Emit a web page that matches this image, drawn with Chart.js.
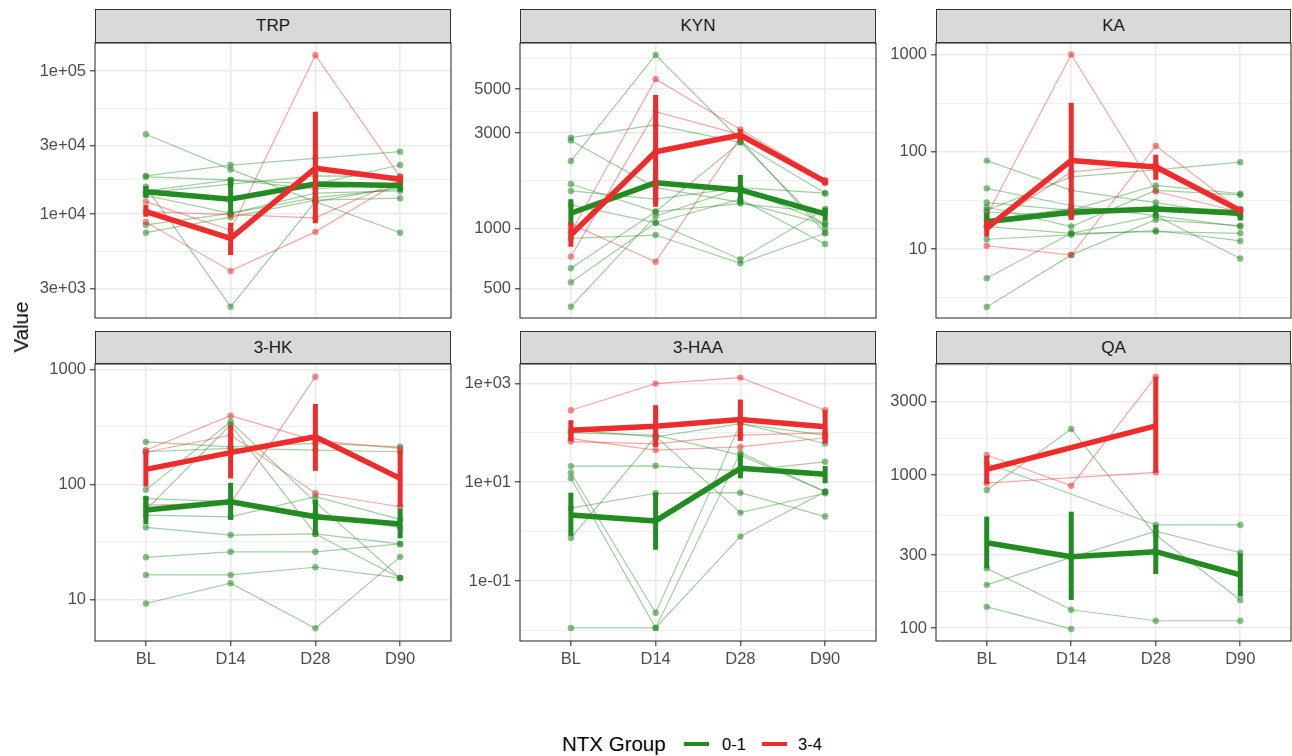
<!DOCTYPE html>
<html>
<head>
<meta charset="utf-8">
<script src="https://cdn.jsdelivr.net/npm/chart.js@4.4.1/dist/chart.umd.min.js"></script>
<style>
  html, body { margin:0; padding:0; background:#fff; }
  body { width:1292px; height:756px; position:relative; overflow:hidden; font-family:"Liberation Sans", Arial, sans-serif; }
  canvas { position:absolute; }
  .strip { position:absolute; background:#D9D9D9; border:1.1px solid #333333; box-sizing:border-box; text-align:center; color:#1A1A1A; font-size:17px; }
  .txt { position:absolute; white-space:nowrap; }
</style>
</head>
<body>
<div id="root"></div>
<script>
// ---------------- DATA ----------------
const categories = ['BL', 'D14', 'D28', 'D90'];
const panelNames = ['TRP', 'KYN', 'KA', '3-HK', '3-HAA', 'QA'];
const groupNames = ['0-1', '3-4'];
const legendTitle = 'NTX Group';
const yAxisTitle = 'Value';

// TRP
const trpGreen = [
  [36100, 20500, 12200, 7400],
  [18450, 22000, 24500, 27300],
  [18200, 17300, 16200, 22000],
  [15500, 2250, 12200, 15500],
  [14100, 16200, 18500, 18300],
  [13500, 10100, 13000, 15000],
  [8400, 10100, 14000, 14500],
  [7400, 9500, 12500, 12900],
  [14500, 17300, 15000, 16500]
];
const trpRed = [
  [12200, 7700, 129000, 18200],
  [8800, 4000, 7500, 17000],
  [10400, 9900, 9400, 17300]
];
const trpGreenMean = [14300, 12700, 16200, 15800];
const trpGreenLow  = [13000, 10100, 14500, 14400];
const trpGreenHigh = [15700, 17700, 18000, 17300];
const trpRedMean = [10400, 6760, 20900, 17500];
const trpRedLow  = [9570, 5170, 8610, 16400];
const trpRedHigh = [11560, 8690, 51900, 18500];
const trpTicks = [3000, 10000, 30000, 100000];
const trpTickLabels = ['3e+03', '1e+04', '3e+04', '1e+05'];
const trpMinorTicks = [5477, 17321, 54772];

// KYN
const kynGreen = [
  [2850, 3300, 2700, 1500],
  [2760, 1600, 1350, 1050],
  [2175, 7410, 2775, 950],
  [1668, 1212, 1330, 1200],
  [1540, 1400, 1600, 1500],
  [1310, 1067, 700, 1250],
  [891, 925, 667, 944],
  [630, 1212, 2700, 1000],
  [536, 1067, 1400, 834],
  [404, 1150, 1600, 1060]
];
const kynRed = [
  [950, 5600, 3130, 1750],
  [721, 3845, 2950, 1700],
  [1050, 680, 2850, 1690]
];
const kynGreenMean = [1190, 1694, 1557, 1180];
const kynGreenLow  = [1050, 1450, 1335, 1090];
const kynGreenHigh = [1400, 2000, 1852, 1270];
const kynRedMean = [925, 2423, 2938, 1714];
const kynRedLow  = [808, 1283, 2750, 1650];
const kynRedHigh = [1060, 4670, 3150, 1780];
const kynTicks = [500, 1000, 3000, 5000];
const kynTickLabels = ['500', '1000', '3000', '5000'];
const kynMinorTicks = [707, 1732, 3873, 7071];

// KA
const kaGreen = [
  [81, 40, 30, 22],
  [42, 28, 22, 17],
  [30, 25, 45, 37],
  [27, 17, 40, 36],
  [24, 22, 27, 25],
  [20, 26, 26, 22],
  [17, 14.5, 15.1, 14.5],
  [12.6, 14, 15.5, 12.1],
  [5.0, 14.5, 22, 8.0],
  [2.54, 8.7, 20, 17.4],
  [25, 55, 65, 78]
];
const kaRed = [
  [22, 1000, 39, 24],
  [10.8, 8.67, 115, 25],
  [17, 62, 75, 26]
];
const kaGreenMean = [19.1, 23.9, 25.8, 23.3];
const kaGreenLow  = [16.6, 21, 22, 19.6];
const kaGreenHigh = [23.3, 27, 28, 27];
const kaRedMean = [16.3, 81.3, 69.5, 24.8];
const kaRedLow  = [13.4, 19.9, 51.4, 23];
const kaRedHigh = [19.9, 318, 93, 26.5];
const kaTicks = [10, 100, 1000];
const kaTickLabels = ['10', '100', '1000'];
const kaMinorTicks = [3.162, 31.62, 316.2];

// 3-HK
const hkGreen = [
  [234, 212, 227, 212],
  [192, 205, 198, 192],
  [89.5, 350, 70, 15.3],
  [60, 330, 37, 15.3],
  [54, 52.2, 78, 49.6],
  [75, 70.6, 55, 42],
  [42.3, 36.2, 37, 30.3],
  [23.2, 25.9, 25.9, 30.3],
  [16.3, 16.3, 19.0, 15.3],
  [9.2, 13.8, 5.6, 23.4]
];
const hkRed = [
  [198, 395, 240, 205],
  [190, 268, 83.6, 63.8],
  [66, 68.5, 863, null]
];
const hkGreenMean = [59.9, 70.6, 52.2, 45.2];
const hkGreenLow  = [45.2, 49, 36.3, 33.9];
const hkGreenHigh = [79, 103, 73.1, 61.5];
const hkRedMean = [134.8, 188.5, 259, 112.6];
const hkRedLow  = [95.5, 112.6, 131, 63.8];
const hkRedHigh = [192, 328, 499, 198];
const hkTicks = [10, 100, 1000];
const hkTickLabels = ['10', '100', '1000'];
const hkMinorTicks = [31.62, 316.2];

// 3-HAA
const haaGreen = [
  [114, 83, 155, 61],
  [100, 90, 35.6, 6.45],
  [21.3, 21.6, 17, 26],
  [15.6, 0.0227, 155, 90],
  [12.05, 0.0112, 40, 6.45],
  [0.0112, 0.0112, 0.8, 6.45],
  [0.74, 85, 2.43, 6.0],
  [3, 6.0, 6.17, 2.02]
];
const haaRed = [
  [288, 1000, 1322, 288],
  [77, 45, 52, 80],
  [67, 60, 90, 100]
];
const haaGreenMean = [2.18, 1.65, 19.2, 14.5];
const haaGreenLow  = [0.82, 0.43, 12.05, 9.55];
const haaGreenHigh = [6.17, 6.17, 35.6, 21.3];
const haaRedMean = [114, 137, 187, 133];
const haaRedLow  = [69, 52.4, 69, 61];
const haaRedHigh = [181, 365, 475, 288];
const haaTicks = [0.1, 10, 1000];
const haaTickLabels = ['1e-01', '1e+01', '1e+03'];
const haaMinorTicks = [0.01, 1, 100];

// QA
const qaGreen = [
  [798, 1995, 406, 153],
  [1192, null, 472, 472],
  [246, 132, 112, 112],
  [192, 290, 430, 311],
  [138, 99, null, null]
];
const qaRed = [
  [1349, 851, 4375, null],
  [884, null, 1040, null]
];
const qaGreenMean = [361, 293, 316, 223];
const qaGreenLow  = [246, 153, 226, 161];
const qaGreenHigh = [535, 576, 472, 308];
const qaRedMean = [1089, null, 2089, null];
const qaRedLow  = [874, null, 1035, null];
const qaRedHigh = [1332, null, 4375, null];
const qaTicks = [100, 300, 1000, 3000];
const qaTickLabels = ['100', '300', '1000', '3000'];
const qaMinorTicks = [173.2, 547.7, 1732, 5196];

// ---------------- STYLE / LAYOUT ----------------
const GREEN = [34, 139, 34];
const RED = [238, 44, 44];
const rgba = (c, a) => `rgba(${c[0]},${c[1]},${c[2]},${a})`;
const FONT = '"Liberation Sans", Arial, sans-serif';

const colLeft = [95, 520, 936];
const colWidth = [356, 356, 355];
const rowTop = [43, 364];
const rowHeight = [275, 277];
const stripTop = [9, 331];
const stripHeight = [34, 33];
const AXW = 90, PADT = 20, PADR = 10, AXH = 45;

const panels = [
  { name: panelNames[0], green: trpGreen, red: trpRed, gm: trpGreenMean, gl: trpGreenLow, gh: trpGreenHigh, rm: trpRedMean, rl: trpRedLow, rh: trpRedHigh, ticks: trpTicks, labels: trpTickLabels, minors: trpMinorTicks, min: 1874, max: 156960 },
  { name: panelNames[1], green: kynGreen, red: kynRed, gm: kynGreenMean, gl: kynGreenLow, gh: kynGreenHigh, rm: kynRedMean, rl: kynRedLow, rh: kynRedHigh, ticks: kynTicks, labels: kynTickLabels, minors: kynMinorTicks, min: 354.8, max: 8505 },
  { name: panelNames[2], green: kaGreen, red: kaRed, gm: kaGreenMean, gl: kaGreenLow, gh: kaGreenHigh, rm: kaRedMean, rl: kaRedLow, rh: kaRedHigh, ticks: kaTicks, labels: kaTickLabels, minors: kaMinorTicks, min: 1.954, max: 1309 },
  { name: panelNames[3], green: hkGreen, red: hkRed, gm: hkGreenMean, gl: hkGreenLow, gh: hkGreenHigh, rm: hkRedMean, rl: hkRedLow, rh: hkRedHigh, ticks: hkTicks, labels: hkTickLabels, minors: hkMinorTicks, min: 4.34, max: 1112 },
  { name: panelNames[4], green: haaGreen, red: haaRed, gm: haaGreenMean, gl: haaGreenLow, gh: haaGreenHigh, rm: haaRedMean, rl: haaRedLow, rh: haaRedHigh, ticks: haaTicks, labels: haaTickLabels, minors: haaMinorTicks, min: 0.00608, max: 2495 },
  { name: panelNames[5], green: qaGreen, red: qaRed, gm: qaGreenMean, gl: qaGreenLow, gh: qaGreenHigh, rm: qaRedMean, rl: qaRedLow, rh: qaRedHigh, ticks: qaTicks, labels: qaTickLabels, minors: qaMinorTicks, min: 82.6, max: 5297 }
];

const root = document.getElementById('root');

function addText(text, left, top, size, color, extra) {
  const d = document.createElement('div');
  d.className = 'txt';
  d.textContent = text;
  d.style.left = left + 'px';
  d.style.top = top + 'px';
  d.style.fontSize = size + 'px';
  d.style.color = color;
  if (extra) Object.assign(d.style, extra);
  root.appendChild(d);
  return d;
}

const borderPlugin = {
  id: 'panelBorder',
  afterDraw(chart) {
    const a = chart.chartArea, ctx = chart.ctx;
    ctx.save();
    ctx.strokeStyle = '#333333';
    ctx.lineWidth = 1.1;
    ctx.strokeRect(a.left, a.top, a.right - a.left, a.bottom - a.top);
    ctx.restore();
  }
};

const toPts = arr => arr.map((v, i) => ({ x: i, y: v }));

function subjectSets(rows, col, order) {
  return rows.map(r => ({
    data: toPts(r),
    borderColor: rgba(col, 0.42),
    borderWidth: 1.2,
    pointRadius: 3.2,
    pointBackgroundColor: rgba(col, 0.55),
    pointBorderWidth: 0,
    spanGaps: true,
    order: order
  }));
}

function meanSets(mean, lo, hi, col, order) {
  const sets = [{
    data: toPts(mean),
    borderColor: rgba(col, 1),
    borderWidth: 5.5,
    borderJoinStyle: 'round',
    pointRadius: 0,
    spanGaps: true,
    order: order
  }];
  lo.forEach((l, i) => {
    if (l == null || hi[i] == null) return;
    sets.push({
      data: [{ x: i, y: l }, { x: i, y: hi[i] }],
      borderColor: rgba(col, 1),
      borderWidth: 5,
      borderCapStyle: 'butt',
      pointRadius: 0,
      order: order
    });
  });
  return sets;
}

panels.forEach((p, idx) => {
  const row = Math.floor(idx / 3), col = idx % 3;
  const left = colLeft[col], width = colWidth[col];
  const top = rowTop[row], height = rowHeight[row];
  const bottomRow = row === 1;

  // strip
  const s = document.createElement('div');
  s.className = 'strip';
  s.style.left = left + 'px';
  s.style.top = stripTop[row] + 'px';
  s.style.width = width + 'px';
  s.style.height = stripHeight[row] + 'px';
  s.style.lineHeight = (stripHeight[row] - 2) + 'px';
  s.textContent = p.name;
  root.appendChild(s);

  const cv = document.createElement('canvas');
  const cw = AXW + width + PADR, ch = PADT + height + AXH;
  cv.width = cw; cv.height = ch;
  cv.style.left = (left - AXW) + 'px';
  cv.style.top = (top - PADT) + 'px';
  cv.style.width = cw + 'px';
  cv.style.height = ch + 'px';
  root.appendChild(cv);

  const datasets = [
    ...meanSets(p.rm, p.rl, p.rh, RED, 0),
    ...meanSets(p.gm, p.gl, p.gh, GREEN, 1),
    ...subjectSets(p.red, RED, 2),
    ...subjectSets(p.green, GREEN, 3)
  ];

  const labelMap = new Map(p.ticks.map((t, i) => [t, p.labels[i]]));

  new Chart(cv, {
    type: 'line',
    data: { datasets },
    plugins: [borderPlugin],
    options: {
      responsive: false,
      animation: false,
      devicePixelRatio: 1,
      events: [],
      layout: { padding: { top: PADT, right: PADR, left: 0, bottom: 0 } },
      plugins: { legend: { display: false }, tooltip: { enabled: false } },
      scales: {
        x: {
          type: 'linear',
          min: -0.6, max: 3.6,
          afterBuildTicks: sc => { sc.ticks = categories.map((c, i) => ({ value: i })); },
          afterFit: sc => { sc.height = AXH; },
          border: { display: false },
          grid: {
            color: '#EBEBEB', lineWidth: 1.6,
            drawTicks: bottomRow, tickLength: 5, tickColor: '#333333', tickWidth: 1.1
          },
          ticks: {
            display: bottomRow,
            autoSkip: false, maxRotation: 0,
            padding: 4,
            color: '#4D4D4D',
            font: { family: FONT, size: 16.5 },
            callback: v => categories[v]
          }
        },
        y: {
          type: 'logarithmic',
          min: p.min, max: p.max,
          afterBuildTicks: sc => {
            const all = p.ticks.map(v => ({ value: v, mn: false }))
              .concat(p.minors.map(v => ({ value: v, mn: true })));
            all.sort((a, b) => a.value - b.value);
            sc.ticks = all;
          },
          afterFit: sc => { sc.width = AXW; },
          border: { display: false },
          grid: {
            color: '#EBEBEB',
            lineWidth: c => (c.tick && c.tick.mn) ? 0.8 : 1.6,
            drawTicks: true, tickLength: 5,
            tickColor: c => (c.tick && c.tick.mn) ? 'rgba(0,0,0,0)' : '#333333',
            tickWidth: 1.1
          },
          ticks: {
            autoSkip: false,
            padding: 4,
            color: '#4D4D4D',
            font: { family: FONT, size: 16.5 },
            callback: v => labelMap.has(v) ? labelMap.get(v) : ''
          }
        }
      }
    }
  });
});

// y axis title
addText(yAxisTitle, 21, 327, 20.5, '#000000', { transform: 'translate(-50%, -50%) rotate(-90deg)' });

// legend (HTML)
addText(legendTitle, 562, 731, 20.5, '#000000', { lineHeight: '26px' });
const sw1 = document.createElement('div');
Object.assign(sw1.style, { position: 'absolute', left: '684px', top: '742px', width: '25px', height: '4px', background: rgba(GREEN, 1) });
root.appendChild(sw1);
addText(groupNames[0], 722, 734, 16.5, '#000000', { lineHeight: '20px' });
const sw2 = document.createElement('div');
Object.assign(sw2.style, { position: 'absolute', left: '762px', top: '742px', width: '25px', height: '4px', background: rgba(RED, 1) });
root.appendChild(sw2);
addText(groupNames[1], 798, 734, 16.5, '#000000', { lineHeight: '20px' });
</script>
</body>
</html>
